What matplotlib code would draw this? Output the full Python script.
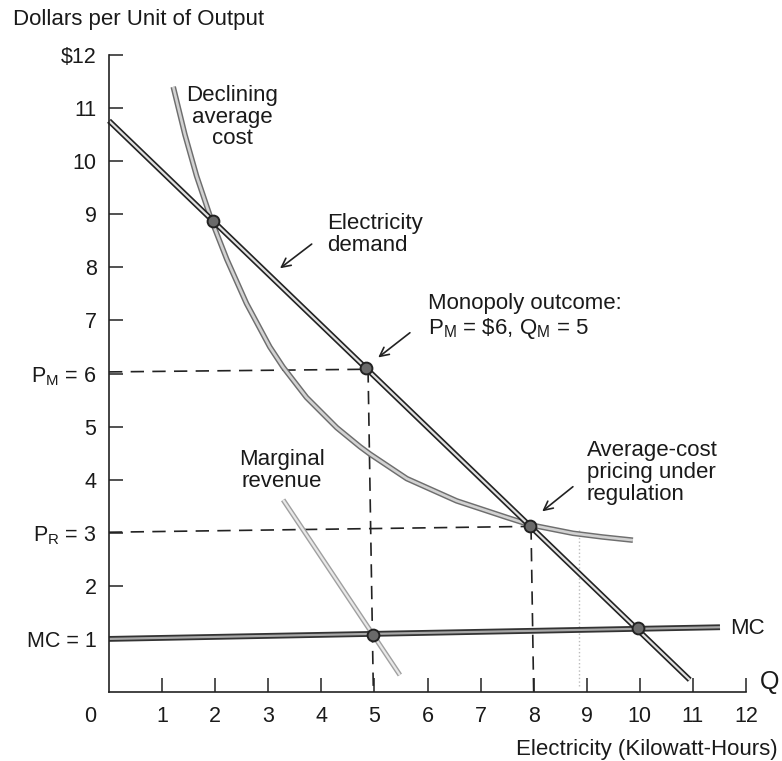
import matplotlib
matplotlib.use("Agg")
import matplotlib.pyplot as plt

plt.rcParams['font.family'] = ['Liberation Sans', 'DejaVu Sans']
plt.rcParams['mathtext.default'] = 'regular'

# curves (quantity, dollars)
demand_q = [0.0, 10.94]
demand_p = [10.76, 0.23]

ac_q = [1.21, 1.43, 1.65, 1.93, 2.22, 2.59, 3.03, 3.28, 3.72, 4.29, 4.73,
        4.92, 5.61, 6.55, 7.49, 7.93, 8.74, 9.30, 9.87]
ac_p = [11.40, 10.50, 9.72, 8.89, 8.15, 7.32, 6.50, 6.12, 5.55, 4.98, 4.62,
        4.48, 4.02, 3.60, 3.29, 3.15, 2.99, 2.92, 2.86]

mr_q = [3.28, 5.48]
mr_p = [3.62, 0.32]

mc_q = [0.0, 11.51]
mc_p = [1.0, 1.22]

# guide lines (dashed)
pm_q, pm_p = [0.0, 4.88], [6.03, 6.08]
qm_q, qm_p = [4.88, 4.98], [6.08, 0.0]
pr_q, pr_p = [0.0, 7.95], [3.01, 3.12]
qr_q, qr_p = [7.95, 8.0], [3.12, 0.0]
faint_q, faint_p = [8.86, 8.86], [3.05, 0.1]

# equilibrium dots
dot_q = [1.95, 4.85, 7.94, 4.98, 9.97]
dot_p = [8.87, 6.10, 3.13, 1.07, 1.20]

x_ticks = list(range(1, 13))
x_labels = [str(v) for v in x_ticks]
y_ticks = list(range(1, 13))
y_labels = ['MC = 1', '2', 'P$_R$ = 3', '4', '5', 'P$_M$ = 6', '7', '8', '9',
            '10', '11', r'\$12']

fig = plt.figure(figsize=(7.82, 7.61), dpi=100)
ax = fig.add_axes([109 / 782, 69 / 761, 637 / 782, 637 / 761])
ax.set_xlim(0, 12)
ax.set_ylim(0, 12)

for s in ['top', 'right']:
    ax.spines[s].set_visible(False)
for s in ['left', 'bottom']:
    ax.spines[s].set_linewidth(1.2)
    ax.spines[s].set_color('#222222')

ax.set_xticks(x_ticks)
ax.set_xticklabels(x_labels)
ax.set_yticks(y_ticks)
ax.set_yticklabels(y_labels)
ax.tick_params(direction='in', length=10, width=1.1, colors='#222222',
               labelsize=15.5, labelcolor='#1a1a1a')
ax.tick_params(axis='x', pad=10)
ax.tick_params(axis='y', pad=9)

dash = dict(color='#222222', lw=1.2, dashes=(8, 5), clip_on=False)
ax.plot(pm_q, pm_p, **dash)
ax.plot(qm_q, qm_p, **dash)
ax.plot(pr_q, pr_p, **dash)
ax.plot(qr_q, qr_p, **dash)
ax.plot(faint_q, faint_p, color='#bbbbbb', lw=1, ls=':', clip_on=False)

# double-stroke look of the printed curves
ax.plot(mr_q, mr_p, color='#a0a0a0', lw=3.6, solid_capstyle='butt')
ax.plot(mr_q, mr_p, color='#e8e8e8', lw=1.6, solid_capstyle='butt')

ax.plot(ac_q, ac_p, color='#6e6e6e', lw=4.0, solid_capstyle='butt',
        solid_joinstyle='round')
ax.plot(ac_q, ac_p, color='#d2d2d2', lw=1.9, solid_capstyle='butt',
        solid_joinstyle='round')

ax.plot(mc_q, mc_p, color='#333333', lw=4.2, solid_capstyle='butt', clip_on=False)
ax.plot(mc_q, mc_p, color='#a8a8a8', lw=1.6, solid_capstyle='butt', clip_on=False)

ax.plot(demand_q, demand_p, color='#222222', lw=4.0, solid_capstyle='butt', clip_on=False)
ax.plot(demand_q, demand_p, color='#e0e0e0', lw=1.6, solid_capstyle='butt', clip_on=False)

ax.plot(dot_q, dot_p, 'o', ms=8.5, mfc='#6a6a6a', mec='#222222', mew=1.4,
        zorder=5, clip_on=False)

txt = dict(fontsize=16, color='#1a1a1a')
ax.text(2.32, 10.83, 'Declining\naverage\ncost', ha='center', va='center',
        linespacing=1.05, **txt)
ax.text(4.10, 8.62, 'Electricity\ndemand', ha='left', va='center',
        linespacing=1.05, **txt)
ax.text(6.01, 7.06, 'Monopoly outcome:\nP$_M$ = \\$6, Q$_M$ = 5', ha='left',
        va='center', linespacing=1.1, **txt)
ax.text(9.0, 4.14, 'Average-cost\npricing under\nregulation', ha='left',
        va='center', linespacing=1.05, **txt)
ax.text(3.26, 4.17, 'Marginal\nrevenue', ha='center', va='center',
        linespacing=1.05, **txt)
ax.text(11.70, 1.2, 'MC', ha='left', va='center', **txt)
ax.text(12.27, 0.19, 'Q', ha='left', va='center', fontsize=18, color='#1a1a1a')
ax.text(-0.36, -0.47, '0', ha='center', va='center', fontsize=15.5, color='#1a1a1a')

arrow = dict(arrowstyle='->', color='#222222', lw=1.2, mutation_scale=16)
ax.annotate('', xy=(3.18, 7.95), xytext=(3.86, 8.47), arrowprops=arrow)
ax.annotate('', xy=(5.03, 6.27), xytext=(5.71, 6.80), arrowprops=arrow)
ax.annotate('', xy=(8.12, 3.37), xytext=(8.78, 3.90), arrowprops=arrow)

fig.text(0.017, 1 - 19.3 / 761, 'Dollars per Unit of Output', ha='left',
         va='center', **txt)
fig.text(0.995, 1 - 750 / 761, 'Electricity (Kilowatt-Hours)', ha='right',
         va='center', **txt)

fig.savefig('out.png', dpi=100)
